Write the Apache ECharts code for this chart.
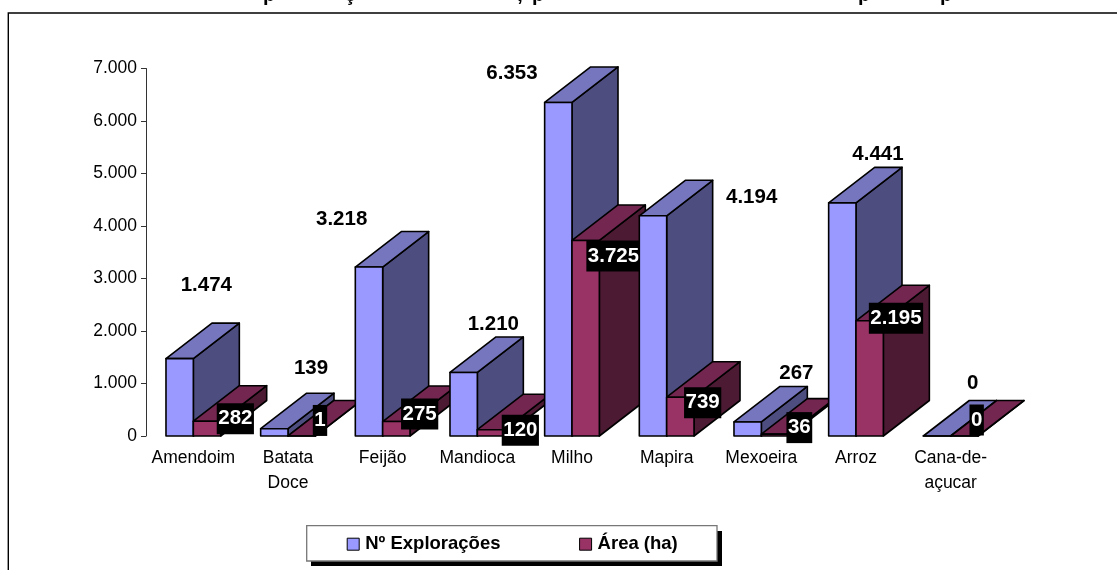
<!DOCTYPE html>
<html><head><meta charset="utf-8">
<style>html,body{margin:0;padding:0;background:#fff}#c{width:1117px;height:570px}</style>
<script src="https://cdn.jsdelivr.net/npm/echarts@6/dist/echarts.min.js"></script>
</head><body><div id="c"></div>
<script>
const categories = ['Amendoim','Batata\nDoce','Feijão','Mandioca','Milho','Mapira','Mexoeira','Arroz','Cana-de-\naçucar'];
const exploracoes = [1474,139,3218,1210,6353,4194,267,4441,0];
const area = [282,1,275,120,3725,739,36,2195,0];
const seriesNames = ['Nº Explorações','Área (ha)'];
const blueLabelOffsets = [[13,-75],[23,-62],[-41,-49],[16,-50],[-60,-31],[85,-20],[35,-50],[22,-50],[22,-54]];
const redLabelOffsets = [[42,-4],[32,-17],[37,-9],[43,-1],[41.5,14],[36,4],[38,-8],[40,-4],[26,-17.5]];
const titleTails = [['p',269],['ç',350],[',',520],['p',538],['p',864],['p',946]];

const FONT = '"Liberation Sans", Arial, sans-serif';
const fmt = v => String(v).replace(/\B(?=(\d{3})+(?!\d))/g,'.');
const BAR_FRAC = 27.35/94.67, DX = 46, DY = 35.5;

function bar3d(sIdx, palette, offsets, boxed){
  return function(params, api){
    const i = api.value(0), v = api.value(1);
    const top = api.coord([i,v]), base = api.coord([i,0]);
    const w = api.size([1,0])[0]*BAR_FRAC;
    const x0 = top[0] + (sIdx===0 ? -w : 0), x1 = x0+w, yT = top[1], yB = base[1];
    const z = i*10 + sIdx*3;
    const line = {stroke:'#000', lineWidth:1.6, lineJoin:'round'};
    const poly = (pts,fill)=>({type:'polygon', z2:z, shape:{points:pts}, style:Object.assign({fill},line)});
    const off = offsets[i], txt = fmt(v);
    const label = {type:'text', z2:z+1, style:{
      text:txt, x:top[0]+off[0], y:yT+off[1]+1.5, align:'center', verticalAlign:'middle',
      font:'bold 20.5px '+FONT, fill: boxed?'#fff':'#000',
      backgroundColor: boxed?'#000':undefined, padding: boxed?[5,1.5]:0 }};
    return {type:'group', children:[
      poly([[x1,yT],[x1+DX,yT-DY],[x1+DX,yB-DY],[x1,yB]], palette.side),
      poly([[x0,yT],[x0+DX,yT-DY],[x1+DX,yT-DY],[x1,yT]], palette.top),
      poly([[x0,yT],[x1,yT],[x1,yB],[x0,yB]], palette.front),
      label
    ]};
  };
}

const chart = echarts.init(document.getElementById('c'),null,{renderer:'canvas'});
chart.setOption({
  animation:false,
  backgroundColor:'#fff',
  grid:{left:146,right:119,top:68.5,bottom:134,containLabel:false},
  xAxis:{type:'category',data:categories,boundaryGap:true,
    axisLine:{show:false},axisTick:{show:false},
    axisLabel:{interval:0,margin:10,color:'#000',fontFamily:FONT,fontSize:17.5,lineHeight:25}},
  yAxis:{type:'value',min:0,max:7000,interval:1000,splitLine:{show:false},
    axisLine:{show:true,lineStyle:{color:'#333',width:1}},
    axisTick:{show:true,length:5,lineStyle:{color:'#333',width:1}},
    axisLabel:{margin:9,color:'#000',fontFamily:FONT,fontSize:17.5,formatter:fmt}},
  legend:{left:306.7,top:525.7,orient:'horizontal',z:6,
    padding:[9,37,9,40],itemGap:78.6,itemWidth:12,itemHeight:12,
    icon:'rect',
    itemStyle:{borderColor:'#000',borderWidth:1},
    textStyle:{fontFamily:FONT,fontWeight:'bold',fontSize:18.5,color:'#000',padding:[0,0,0,1]},
    data:seriesNames},
  graphic:[
    {type:'rect',z:-1,silent:true,shape:{x:8.3,y:13,width:1130,height:580},style:{fill:'#fff',stroke:'#000',lineWidth:1.4}},
    {type:'rect',z:1,silent:true,shape:{x:311,y:531,width:411,height:35},style:{fill:'#000'}},
    {type:'rect',z:2,silent:true,shape:{x:306.7,y:525.7,width:410.3,height:35.3},style:{fill:'#fff',stroke:'#777',lineWidth:1.3}},
    ...titleTails.map(t=>({type:'text',z:1,silent:true,x:t[1],y:-14.5,style:{text:t[0],font:'bold 20px '+FONT,fill:'#000',align:'center',verticalAlign:'top'}}))
  ],
  series:[
    {name:seriesNames[0],type:'custom',clip:false,itemStyle:{color:'#9999FF'},
     encode:{x:0,y:1},data:exploracoes.map((v,i)=>[i,v]),
     renderItem:bar3d(0,{front:'#9999FF',top:'#7676BE',side:'#4D4D80'},blueLabelOffsets,false)},
    {name:seriesNames[1],type:'custom',clip:false,itemStyle:{color:'#993366'},
     encode:{x:0,y:1},data:area.map((v,i)=>[i,v]),
     renderItem:bar3d(1,{front:'#993366',top:'#732650',side:'#4D1A33'},redLabelOffsets,true)}
  ]
});
</script></body></html>
